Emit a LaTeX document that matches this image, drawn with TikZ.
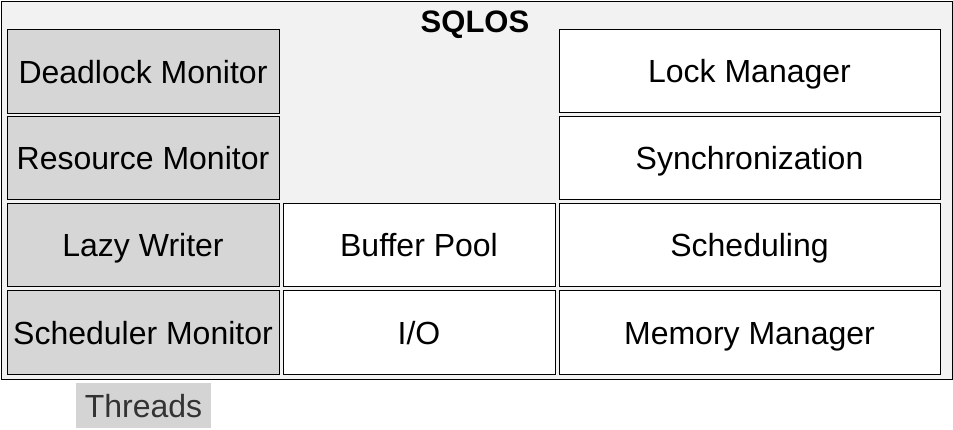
\documentclass[tikz,border=0pt]{standalone}
\usepackage{fontspec}
\setmainfont{Liberation Sans}
\definecolor{outerbg}{HTML}{F2F2F2}
\definecolor{monfill}{HTML}{D6D6D6}
\definecolor{thrfill}{HTML}{D4D4D4}
\definecolor{thrtext}{HTML}{333333}
\begin{document}
\begin{tikzpicture}[x=1pt,y=-1pt,
  cell/.style={draw=black, line width=1pt, inner sep=0pt, text height=23pt, text depth=0pt, font=\fontsize{32}{38}\selectfont},
  mon/.style={cell, fill=monfill},
  comp/.style={cell, fill=white}]
\useasboundingbox (0,0) rectangle (953,430);
\node[draw=black, line width=1.2pt, fill=outerbg, minimum width=951pt, minimum height=378pt, anchor=north west, inner sep=0pt] (sqlos) at (0.6,0.6) {};
\node[font=\bfseries\fontsize{31}{36}\selectfont, inner sep=0pt, text height=22pt, text depth=0pt] (title) at (475,22) {SQLOS};
% left column
\node[mon, minimum width=272pt, minimum height=84pt] (dl) at (143,72) {Deadlock Monitor};
\node[mon, minimum width=272pt, minimum height=83pt] (rm) at (143,158.5) {Resource Monitor};
\node[mon, minimum width=272pt, minimum height=83pt] (lw) at (143,245.5) {Lazy Writer};
\node[mon, minimum width=272pt, minimum height=83pt] (sm) at (143,332.5) {Scheduler Monitor};
% middle column
\node[comp, minimum width=272pt, minimum height=83pt] (bp) at (419,245.5) {Buffer Pool};
\node[comp, minimum width=272pt, minimum height=83pt] (io) at (419,332.5) {I/O};
% right column
\node[comp, minimum width=381pt, minimum height=83pt] (lm) at (749.5,71.5) {Lock Manager};
\node[comp, minimum width=381pt, minimum height=83pt] (sy) at (749.5,158.5) {Synchronization};
\node[comp, minimum width=381pt, minimum height=83pt] (sc) at (749.5,245.5) {Scheduling};
\node[comp, minimum width=381pt, minimum height=83pt] (mm) at (749.5,332.5) {Memory Manager};
% threads
\node[fill=thrfill, text=thrtext, minimum width=135pt, minimum height=45pt, inner sep=0pt, text height=23pt, text depth=0pt, font=\fontsize{32}{38}\selectfont] (thr) at (143.5,405.5) {Threads};
\end{tikzpicture}
\end{document}
